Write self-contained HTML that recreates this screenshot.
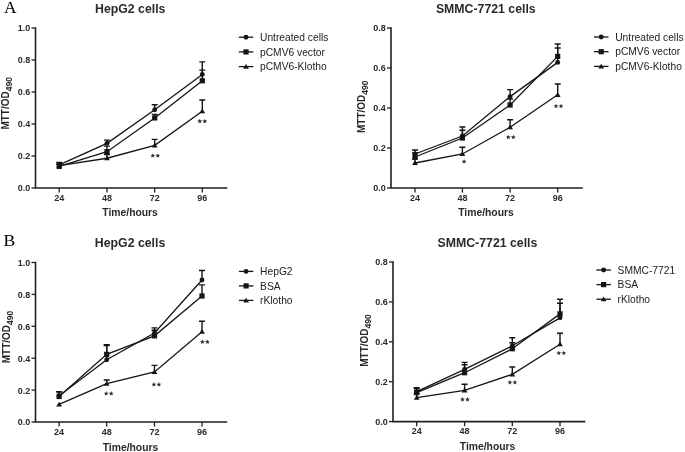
<!DOCTYPE html>
<html><head><meta charset="utf-8"><style>
html,body{margin:0;padding:0;background:#fff;width:685px;height:452px;overflow:hidden}
svg{display:block;filter:blur(0.3px)}
text{font-family:"Liberation Sans", sans-serif}
.pl{font-family:"Liberation Serif", serif}
</style></head><body>
<svg width="685" height="452" viewBox="0 0 685 452">
<rect width="685" height="452" fill="#fff"/>
<text class="pl" x="3.9" y="12.5" font-size="17.4" fill="#000">A</text>
<text class="pl" x="3.6" y="245.6" font-size="17.6" fill="#000">B</text>
<path d="M35.5 28.0 V188 H226.5" fill="none" stroke="#202020" stroke-width="1.6" stroke-linecap="square"/>
<line x1="31.5" y1="188.00" x2="35.5" y2="188.00" stroke="#202020" stroke-width="1.3"/>
<text transform="translate(30.30,191.40) scale(1,1.1)" text-anchor="end" font-size="9" font-weight="bold" fill="#2a2a2a">0.0</text>
<line x1="31.5" y1="156.00" x2="35.5" y2="156.00" stroke="#202020" stroke-width="1.3"/>
<text transform="translate(30.30,159.40) scale(1,1.1)" text-anchor="end" font-size="9" font-weight="bold" fill="#2a2a2a">0.2</text>
<line x1="31.5" y1="124.00" x2="35.5" y2="124.00" stroke="#202020" stroke-width="1.3"/>
<text transform="translate(30.30,127.40) scale(1,1.1)" text-anchor="end" font-size="9" font-weight="bold" fill="#2a2a2a">0.4</text>
<line x1="31.5" y1="92.00" x2="35.5" y2="92.00" stroke="#202020" stroke-width="1.3"/>
<text transform="translate(30.30,95.40) scale(1,1.1)" text-anchor="end" font-size="9" font-weight="bold" fill="#2a2a2a">0.6</text>
<line x1="31.5" y1="60.00" x2="35.5" y2="60.00" stroke="#202020" stroke-width="1.3"/>
<text transform="translate(30.30,63.40) scale(1,1.1)" text-anchor="end" font-size="9" font-weight="bold" fill="#2a2a2a">0.8</text>
<line x1="31.5" y1="28.00" x2="35.5" y2="28.00" stroke="#202020" stroke-width="1.3"/>
<text transform="translate(30.30,31.40) scale(1,1.1)" text-anchor="end" font-size="9" font-weight="bold" fill="#2a2a2a">1.0</text>
<line x1="59.2" y1="188" x2="59.2" y2="192.6" stroke="#202020" stroke-width="1.3"/>
<text transform="translate(59.20,200.70) scale(1,1.1)" text-anchor="middle" font-size="9" font-weight="bold" fill="#2a2a2a">24</text>
<line x1="107" y1="188" x2="107" y2="192.6" stroke="#202020" stroke-width="1.3"/>
<text transform="translate(107.00,200.70) scale(1,1.1)" text-anchor="middle" font-size="9" font-weight="bold" fill="#2a2a2a">48</text>
<line x1="154.7" y1="188" x2="154.7" y2="192.6" stroke="#202020" stroke-width="1.3"/>
<text transform="translate(154.70,200.70) scale(1,1.1)" text-anchor="middle" font-size="9" font-weight="bold" fill="#2a2a2a">72</text>
<line x1="202.3" y1="188" x2="202.3" y2="192.6" stroke="#202020" stroke-width="1.3"/>
<text transform="translate(202.30,200.70) scale(1,1.1)" text-anchor="middle" font-size="9" font-weight="bold" fill="#2a2a2a">96</text>
<text x="130.1" y="216.2" text-anchor="middle" font-size="10.35" font-weight="bold" fill="#2a2a2a">Time/hours</text>
<text transform="translate(9.3,129.6) rotate(-90)" font-size="10" font-weight="bold" fill="#2a2a2a">MTT/OD<tspan font-size="8.5" dy="3.1">490</tspan></text>
<text x="130.25" y="13" text-anchor="middle" font-size="12.3" font-weight="bold" fill="#2a2a2a">HepG2 cells</text>
<path d="M59.20 164.80 L107.00 143.36 L154.70 109.76 L202.30 74.40" fill="none" stroke="#151515" stroke-width="1.3"/>
<path d="M59.20 164.80 V162.40 M56.20 162.40 H62.20" fill="none" stroke="#151515" stroke-width="1.4"/>
<circle cx="59.20" cy="164.80" r="2.45" fill="#151515"/>
<path d="M107.00 143.36 V140.16 M104.00 140.16 H110.00" fill="none" stroke="#151515" stroke-width="1.4"/>
<circle cx="107.00" cy="143.36" r="2.45" fill="#151515"/>
<path d="M154.70 109.76 V104.80 M151.70 104.80 H157.70" fill="none" stroke="#151515" stroke-width="1.4"/>
<circle cx="154.70" cy="109.76" r="2.45" fill="#151515"/>
<path d="M202.30 74.40 V61.92 M199.30 61.92 H205.30" fill="none" stroke="#151515" stroke-width="1.4"/>
<circle cx="202.30" cy="74.40" r="2.45" fill="#151515"/>
<path d="M59.20 166.40 L107.00 151.68 L154.70 117.92 L202.30 80.80" fill="none" stroke="#151515" stroke-width="1.3"/>
<path d="M59.20 166.40 V164.00 M56.20 164.00 H62.20" fill="none" stroke="#151515" stroke-width="1.4"/>
<rect x="56.60" y="163.80" width="5.2" height="5.2" fill="#151515"/>
<path d="M107.00 151.68 V146.08 M104.00 146.08 H110.00" fill="none" stroke="#151515" stroke-width="1.4"/>
<rect x="104.40" y="149.08" width="5.2" height="5.2" fill="#151515"/>
<path d="M154.70 117.92 V114.40 M151.70 114.40 H157.70" fill="none" stroke="#151515" stroke-width="1.4"/>
<rect x="152.10" y="115.32" width="5.2" height="5.2" fill="#151515"/>
<path d="M202.30 80.80 V70.08 M199.30 70.08 H205.30" fill="none" stroke="#151515" stroke-width="1.4"/>
<rect x="199.70" y="78.20" width="5.2" height="5.2" fill="#151515"/>
<path d="M59.20 165.60 L107.00 158.24 L154.70 145.28 L202.30 111.20" fill="none" stroke="#151515" stroke-width="1.3"/>
<path d="M59.20 162.90 L62.10 167.70 L56.30 167.70Z" fill="#151515"/>
<path d="M107.00 158.24 V154.56 M104.00 154.56 H110.00" fill="none" stroke="#151515" stroke-width="1.4"/>
<path d="M107.00 155.54 L109.90 160.34 L104.10 160.34Z" fill="#151515"/>
<path d="M154.70 145.28 V139.36 M151.70 139.36 H157.70" fill="none" stroke="#151515" stroke-width="1.4"/>
<path d="M154.70 142.58 L157.60 147.38 L151.80 147.38Z" fill="#151515"/>
<path d="M202.30 111.20 V100.00 M199.30 100.00 H205.30" fill="none" stroke="#151515" stroke-width="1.4"/>
<path d="M202.30 108.50 L205.20 113.30 L199.40 113.30Z" fill="#151515"/>
<polygon points="152.80,153.20 153.48,154.77 155.18,154.93 153.89,156.06 154.27,157.72 152.80,156.85 151.33,157.72 151.71,156.06 150.42,154.93 152.12,154.77" fill="#333"/>
<polygon points="157.80,153.20 158.48,154.77 160.18,154.93 158.89,156.06 159.27,157.72 157.80,156.85 156.33,157.72 156.71,156.06 155.42,154.93 157.12,154.77" fill="#333"/>
<polygon points="199.75,118.80 200.43,120.37 202.13,120.53 200.84,121.66 201.22,123.32 199.75,122.45 198.28,123.32 198.66,121.66 197.37,120.53 199.07,120.37" fill="#333"/>
<polygon points="204.75,118.80 205.43,120.37 207.13,120.53 205.84,121.66 206.22,123.32 204.75,122.45 203.28,123.32 203.66,121.66 202.37,120.53 204.07,120.37" fill="#333"/>
<line x1="238.8" y1="37.20" x2="253.3" y2="37.20" stroke="#151515" stroke-width="1.3"/>
<circle cx="246.00" cy="37.20" r="2.45" fill="#151515"/>
<text x="260.00" y="40.80" font-size="10.25" fill="#222">Untreated cells</text>
<line x1="238.8" y1="51.90" x2="253.3" y2="51.90" stroke="#151515" stroke-width="1.3"/>
<rect x="243.40" y="49.30" width="5.2" height="5.2" fill="#151515"/>
<text x="260.00" y="55.50" font-size="10.25" fill="#222">pCMV6 vector</text>
<line x1="238.8" y1="66.60" x2="253.3" y2="66.60" stroke="#151515" stroke-width="1.3"/>
<path d="M246.00 63.90 L248.90 68.70 L243.10 68.70Z" fill="#151515"/>
<text x="260.00" y="70.20" font-size="10.25" fill="#222">pCMV6-Klotho</text>
<path d="M391 28.0 V188 H582" fill="none" stroke="#202020" stroke-width="1.6" stroke-linecap="square"/>
<line x1="387" y1="188.00" x2="391" y2="188.00" stroke="#202020" stroke-width="1.3"/>
<text transform="translate(385.80,191.40) scale(1,1.1)" text-anchor="end" font-size="9" font-weight="bold" fill="#2a2a2a">0.0</text>
<line x1="387" y1="148.00" x2="391" y2="148.00" stroke="#202020" stroke-width="1.3"/>
<text transform="translate(385.80,151.40) scale(1,1.1)" text-anchor="end" font-size="9" font-weight="bold" fill="#2a2a2a">0.2</text>
<line x1="387" y1="108.00" x2="391" y2="108.00" stroke="#202020" stroke-width="1.3"/>
<text transform="translate(385.80,111.40) scale(1,1.1)" text-anchor="end" font-size="9" font-weight="bold" fill="#2a2a2a">0.4</text>
<line x1="387" y1="68.00" x2="391" y2="68.00" stroke="#202020" stroke-width="1.3"/>
<text transform="translate(385.80,71.40) scale(1,1.1)" text-anchor="end" font-size="9" font-weight="bold" fill="#2a2a2a">0.6</text>
<line x1="387" y1="28.00" x2="391" y2="28.00" stroke="#202020" stroke-width="1.3"/>
<text transform="translate(385.80,31.40) scale(1,1.1)" text-anchor="end" font-size="9" font-weight="bold" fill="#2a2a2a">0.8</text>
<line x1="415" y1="188" x2="415" y2="192.6" stroke="#202020" stroke-width="1.3"/>
<text transform="translate(415.00,200.70) scale(1,1.1)" text-anchor="middle" font-size="9" font-weight="bold" fill="#2a2a2a">24</text>
<line x1="462.4" y1="188" x2="462.4" y2="192.6" stroke="#202020" stroke-width="1.3"/>
<text transform="translate(462.40,200.70) scale(1,1.1)" text-anchor="middle" font-size="9" font-weight="bold" fill="#2a2a2a">48</text>
<line x1="510.1" y1="188" x2="510.1" y2="192.6" stroke="#202020" stroke-width="1.3"/>
<text transform="translate(510.10,200.70) scale(1,1.1)" text-anchor="middle" font-size="9" font-weight="bold" fill="#2a2a2a">72</text>
<line x1="557.7" y1="188" x2="557.7" y2="192.6" stroke="#202020" stroke-width="1.3"/>
<text transform="translate(557.70,200.70) scale(1,1.1)" text-anchor="middle" font-size="9" font-weight="bold" fill="#2a2a2a">96</text>
<text x="486" y="216.2" text-anchor="middle" font-size="10.35" font-weight="bold" fill="#2a2a2a">Time/hours</text>
<text transform="translate(365,133) rotate(-90)" font-size="10" font-weight="bold" fill="#2a2a2a">MTT/OD<tspan font-size="8.5" dy="3.1">490</tspan></text>
<text x="485.8" y="13.4" text-anchor="middle" font-size="12.3" font-weight="bold" fill="#2a2a2a">SMMC-7721 cells</text>
<path d="M415.00 154.00 L462.40 136.00 L510.10 96.60 L557.70 62.40" fill="none" stroke="#151515" stroke-width="1.3"/>
<path d="M415.00 154.00 V150.00 M412.00 150.00 H418.00" fill="none" stroke="#151515" stroke-width="1.4"/>
<circle cx="415.00" cy="154.00" r="2.45" fill="#151515"/>
<path d="M462.40 136.00 V127.00 M459.40 127.00 H465.40" fill="none" stroke="#151515" stroke-width="1.4"/>
<circle cx="462.40" cy="136.00" r="2.45" fill="#151515"/>
<path d="M510.10 96.60 V89.60 M507.10 89.60 H513.10" fill="none" stroke="#151515" stroke-width="1.4"/>
<circle cx="510.10" cy="96.60" r="2.45" fill="#151515"/>
<path d="M557.70 62.40 V44.00 M554.70 44.00 H560.70" fill="none" stroke="#151515" stroke-width="1.4"/>
<circle cx="557.70" cy="62.40" r="2.45" fill="#151515"/>
<path d="M415.00 157.00 L462.40 138.00 L510.10 105.00 L557.70 56.40" fill="none" stroke="#151515" stroke-width="1.3"/>
<path d="M415.00 157.00 V153.00 M412.00 153.00 H418.00" fill="none" stroke="#151515" stroke-width="1.4"/>
<rect x="412.40" y="154.40" width="5.2" height="5.2" fill="#151515"/>
<path d="M462.40 138.00 V130.20 M459.40 130.20 H465.40" fill="none" stroke="#151515" stroke-width="1.4"/>
<rect x="459.80" y="135.40" width="5.2" height="5.2" fill="#151515"/>
<path d="M510.10 105.00 V99.00 M507.10 99.00 H513.10" fill="none" stroke="#151515" stroke-width="1.4"/>
<rect x="507.50" y="102.40" width="5.2" height="5.2" fill="#151515"/>
<path d="M557.70 56.40 V48.00 M554.70 48.00 H560.70" fill="none" stroke="#151515" stroke-width="1.4"/>
<rect x="555.10" y="53.80" width="5.2" height="5.2" fill="#151515"/>
<path d="M415.00 163.00 L462.40 154.00 L510.10 127.20 L557.70 94.80" fill="none" stroke="#151515" stroke-width="1.3"/>
<path d="M415.00 163.00 V159.00 M412.00 159.00 H418.00" fill="none" stroke="#151515" stroke-width="1.4"/>
<path d="M415.00 160.30 L417.90 165.10 L412.10 165.10Z" fill="#151515"/>
<path d="M462.40 154.00 V147.20 M459.40 147.20 H465.40" fill="none" stroke="#151515" stroke-width="1.4"/>
<path d="M462.40 151.30 L465.30 156.10 L459.50 156.10Z" fill="#151515"/>
<path d="M510.10 127.20 V119.80 M507.10 119.80 H513.10" fill="none" stroke="#151515" stroke-width="1.4"/>
<path d="M510.10 124.50 L513.00 129.30 L507.20 129.30Z" fill="#151515"/>
<path d="M557.70 94.80 V84.00 M554.70 84.00 H560.70" fill="none" stroke="#151515" stroke-width="1.4"/>
<path d="M557.70 92.10 L560.60 96.90 L554.80 96.90Z" fill="#151515"/>
<polygon points="464.10,159.10 464.78,160.67 466.48,160.83 465.19,161.96 465.57,163.62 464.10,162.75 462.63,163.62 463.01,161.96 461.72,160.83 463.42,160.67" fill="#333"/>
<polygon points="508.30,134.70 508.98,136.27 510.68,136.43 509.39,137.56 509.77,139.22 508.30,138.35 506.83,139.22 507.21,137.56 505.92,136.43 507.62,136.27" fill="#333"/>
<polygon points="513.30,134.70 513.98,136.27 515.68,136.43 514.39,137.56 514.77,139.22 513.30,138.35 511.83,139.22 512.21,137.56 510.92,136.43 512.62,136.27" fill="#333"/>
<polygon points="556.00,103.70 556.68,105.27 558.38,105.43 557.09,106.56 557.47,108.22 556.00,107.35 554.53,108.22 554.91,106.56 553.62,105.43 555.32,105.27" fill="#333"/>
<polygon points="561.00,103.70 561.68,105.27 563.38,105.43 562.09,106.56 562.47,108.22 561.00,107.35 559.53,108.22 559.91,106.56 558.62,105.43 560.32,105.27" fill="#333"/>
<line x1="594" y1="37.00" x2="608.5" y2="37.00" stroke="#151515" stroke-width="1.3"/>
<circle cx="601.20" cy="37.00" r="2.45" fill="#151515"/>
<text x="615.20" y="40.60" font-size="10.25" fill="#222">Untreated cells</text>
<line x1="594" y1="51.70" x2="608.5" y2="51.70" stroke="#151515" stroke-width="1.3"/>
<rect x="598.60" y="49.10" width="5.2" height="5.2" fill="#151515"/>
<text x="615.20" y="55.30" font-size="10.25" fill="#222">pCMV6 vector</text>
<line x1="594" y1="66.40" x2="608.5" y2="66.40" stroke="#151515" stroke-width="1.3"/>
<path d="M601.20 63.70 L604.10 68.50 L598.30 68.50Z" fill="#151515"/>
<text x="615.20" y="70.00" font-size="10.25" fill="#222">pCMV6-Klotho</text>
<path d="M35.5 262.5 V422 H226.4" fill="none" stroke="#202020" stroke-width="1.6" stroke-linecap="square"/>
<line x1="31.5" y1="422.00" x2="35.5" y2="422.00" stroke="#202020" stroke-width="1.3"/>
<text transform="translate(30.30,425.40) scale(1,1.1)" text-anchor="end" font-size="9" font-weight="bold" fill="#2a2a2a">0.0</text>
<line x1="31.5" y1="390.10" x2="35.5" y2="390.10" stroke="#202020" stroke-width="1.3"/>
<text transform="translate(30.30,393.50) scale(1,1.1)" text-anchor="end" font-size="9" font-weight="bold" fill="#2a2a2a">0.2</text>
<line x1="31.5" y1="358.20" x2="35.5" y2="358.20" stroke="#202020" stroke-width="1.3"/>
<text transform="translate(30.30,361.60) scale(1,1.1)" text-anchor="end" font-size="9" font-weight="bold" fill="#2a2a2a">0.4</text>
<line x1="31.5" y1="326.30" x2="35.5" y2="326.30" stroke="#202020" stroke-width="1.3"/>
<text transform="translate(30.30,329.70) scale(1,1.1)" text-anchor="end" font-size="9" font-weight="bold" fill="#2a2a2a">0.6</text>
<line x1="31.5" y1="294.40" x2="35.5" y2="294.40" stroke="#202020" stroke-width="1.3"/>
<text transform="translate(30.30,297.80) scale(1,1.1)" text-anchor="end" font-size="9" font-weight="bold" fill="#2a2a2a">0.8</text>
<line x1="31.5" y1="262.50" x2="35.5" y2="262.50" stroke="#202020" stroke-width="1.3"/>
<text transform="translate(30.30,265.90) scale(1,1.1)" text-anchor="end" font-size="9" font-weight="bold" fill="#2a2a2a">1.0</text>
<line x1="59.1" y1="422" x2="59.1" y2="426.6" stroke="#202020" stroke-width="1.3"/>
<text transform="translate(59.10,434.70) scale(1,1.1)" text-anchor="middle" font-size="9" font-weight="bold" fill="#2a2a2a">24</text>
<line x1="106.7" y1="422" x2="106.7" y2="426.6" stroke="#202020" stroke-width="1.3"/>
<text transform="translate(106.70,434.70) scale(1,1.1)" text-anchor="middle" font-size="9" font-weight="bold" fill="#2a2a2a">48</text>
<line x1="154.5" y1="422" x2="154.5" y2="426.6" stroke="#202020" stroke-width="1.3"/>
<text transform="translate(154.50,434.70) scale(1,1.1)" text-anchor="middle" font-size="9" font-weight="bold" fill="#2a2a2a">72</text>
<line x1="202" y1="422" x2="202" y2="426.6" stroke="#202020" stroke-width="1.3"/>
<text transform="translate(202.00,434.70) scale(1,1.1)" text-anchor="middle" font-size="9" font-weight="bold" fill="#2a2a2a">96</text>
<text x="130.5" y="450.8" text-anchor="middle" font-size="10.35" font-weight="bold" fill="#2a2a2a">Time/hours</text>
<text transform="translate(9.8,363.3) rotate(-90)" font-size="10" font-weight="bold" fill="#2a2a2a">MTT/OD<tspan font-size="8.5" dy="3.1">490</tspan></text>
<text x="130.05" y="246.9" text-anchor="middle" font-size="12.3" font-weight="bold" fill="#2a2a2a">HepG2 cells</text>
<path d="M59.10 395.68 L106.70 359.80 L154.50 333.00 L202.00 280.04" fill="none" stroke="#151515" stroke-width="1.3"/>
<path d="M59.10 395.68 V391.69 M56.10 391.69 H62.10" fill="none" stroke="#151515" stroke-width="1.4"/>
<circle cx="59.10" cy="395.68" r="2.45" fill="#151515"/>
<path d="M106.70 359.80 V345.44 M103.70 345.44 H109.70" fill="none" stroke="#151515" stroke-width="1.4"/>
<circle cx="106.70" cy="359.80" r="2.45" fill="#151515"/>
<path d="M154.50 333.00 V327.89 M151.50 327.89 H157.50" fill="none" stroke="#151515" stroke-width="1.4"/>
<circle cx="154.50" cy="333.00" r="2.45" fill="#151515"/>
<path d="M202.00 280.04 V270.48 M199.00 270.48 H205.00" fill="none" stroke="#151515" stroke-width="1.4"/>
<circle cx="202.00" cy="280.04" r="2.45" fill="#151515"/>
<path d="M59.10 396.48 L106.70 354.37 L154.50 335.87 L202.00 296.00" fill="none" stroke="#151515" stroke-width="1.3"/>
<path d="M59.10 396.48 V391.69 M56.10 391.69 H62.10" fill="none" stroke="#151515" stroke-width="1.4"/>
<rect x="56.50" y="393.88" width="5.2" height="5.2" fill="#151515"/>
<path d="M106.70 354.37 V344.80 M103.70 344.80 H109.70" fill="none" stroke="#151515" stroke-width="1.4"/>
<rect x="104.10" y="351.77" width="5.2" height="5.2" fill="#151515"/>
<path d="M154.50 335.87 V330.29 M151.50 330.29 H157.50" fill="none" stroke="#151515" stroke-width="1.4"/>
<rect x="151.90" y="333.27" width="5.2" height="5.2" fill="#151515"/>
<path d="M202.00 296.00 V284.83 M199.00 284.83 H205.00" fill="none" stroke="#151515" stroke-width="1.4"/>
<rect x="199.40" y="293.39" width="5.2" height="5.2" fill="#151515"/>
<path d="M59.10 404.45 L106.70 383.72 L154.50 371.92 L202.00 331.72" fill="none" stroke="#151515" stroke-width="1.3"/>
<path d="M59.10 401.75 L62.00 406.56 L56.20 406.56Z" fill="#151515"/>
<path d="M106.70 383.72 V380.05 M103.70 380.05 H109.70" fill="none" stroke="#151515" stroke-width="1.4"/>
<path d="M106.70 381.02 L109.60 385.82 L103.80 385.82Z" fill="#151515"/>
<path d="M154.50 371.92 V365.38 M151.50 365.38 H157.50" fill="none" stroke="#151515" stroke-width="1.4"/>
<path d="M154.50 369.22 L157.40 374.02 L151.60 374.02Z" fill="#151515"/>
<path d="M202.00 331.72 V321.20 M199.00 321.20 H205.00" fill="none" stroke="#151515" stroke-width="1.4"/>
<path d="M202.00 329.02 L204.90 333.82 L199.10 333.82Z" fill="#151515"/>
<polygon points="106.20,391.10 106.88,392.67 108.58,392.83 107.29,393.96 107.67,395.62 106.20,394.75 104.73,395.62 105.11,393.96 103.82,392.83 105.52,392.67" fill="#333"/>
<polygon points="111.20,391.10 111.88,392.67 113.58,392.83 112.29,393.96 112.67,395.62 111.20,394.75 109.73,395.62 110.11,393.96 108.82,392.83 110.52,392.67" fill="#333"/>
<polygon points="153.90,382.10 154.58,383.67 156.28,383.83 154.99,384.96 155.37,386.62 153.90,385.75 152.43,386.62 152.81,384.96 151.52,383.83 153.22,383.67" fill="#333"/>
<polygon points="158.90,382.10 159.58,383.67 161.28,383.83 159.99,384.96 160.37,386.62 158.90,385.75 157.43,386.62 157.81,384.96 156.52,383.83 158.22,383.67" fill="#333"/>
<polygon points="202.40,339.40 203.08,340.97 204.78,341.13 203.49,342.26 203.87,343.92 202.40,343.05 200.93,343.92 201.31,342.26 200.02,341.13 201.72,340.97" fill="#333"/>
<polygon points="207.40,339.40 208.08,340.97 209.78,341.13 208.49,342.26 208.87,343.92 207.40,343.05 205.93,343.92 206.31,342.26 205.02,341.13 206.72,340.97" fill="#333"/>
<line x1="238.9" y1="271.40" x2="253.4" y2="271.40" stroke="#151515" stroke-width="1.3"/>
<circle cx="246.10" cy="271.40" r="2.45" fill="#151515"/>
<text x="260.10" y="275.00" font-size="10.25" fill="#222">HepG2</text>
<line x1="238.9" y1="285.90" x2="253.4" y2="285.90" stroke="#151515" stroke-width="1.3"/>
<rect x="243.50" y="283.30" width="5.2" height="5.2" fill="#151515"/>
<text x="260.10" y="289.50" font-size="10.25" fill="#222">BSA</text>
<line x1="238.9" y1="300.40" x2="253.4" y2="300.40" stroke="#151515" stroke-width="1.3"/>
<path d="M246.10 297.70 L249.00 302.50 L243.20 302.50Z" fill="#151515"/>
<text x="260.10" y="304.00" font-size="10.25" fill="#222">rKlotho</text>
<path d="M393 262.0 V421.6 H584.5" fill="none" stroke="#202020" stroke-width="1.6" stroke-linecap="square"/>
<line x1="389" y1="421.60" x2="393" y2="421.60" stroke="#202020" stroke-width="1.3"/>
<text transform="translate(387.80,425.00) scale(1,1.1)" text-anchor="end" font-size="9" font-weight="bold" fill="#2a2a2a">0.0</text>
<line x1="389" y1="381.70" x2="393" y2="381.70" stroke="#202020" stroke-width="1.3"/>
<text transform="translate(387.80,385.10) scale(1,1.1)" text-anchor="end" font-size="9" font-weight="bold" fill="#2a2a2a">0.2</text>
<line x1="389" y1="341.80" x2="393" y2="341.80" stroke="#202020" stroke-width="1.3"/>
<text transform="translate(387.80,345.20) scale(1,1.1)" text-anchor="end" font-size="9" font-weight="bold" fill="#2a2a2a">0.4</text>
<line x1="389" y1="301.90" x2="393" y2="301.90" stroke="#202020" stroke-width="1.3"/>
<text transform="translate(387.80,305.30) scale(1,1.1)" text-anchor="end" font-size="9" font-weight="bold" fill="#2a2a2a">0.6</text>
<line x1="389" y1="262.00" x2="393" y2="262.00" stroke="#202020" stroke-width="1.3"/>
<text transform="translate(387.80,265.40) scale(1,1.1)" text-anchor="end" font-size="9" font-weight="bold" fill="#2a2a2a">0.8</text>
<line x1="416.7" y1="421.6" x2="416.7" y2="426.20000000000005" stroke="#202020" stroke-width="1.3"/>
<text transform="translate(416.70,434.30) scale(1,1.1)" text-anchor="middle" font-size="9" font-weight="bold" fill="#2a2a2a">24</text>
<line x1="464.6" y1="421.6" x2="464.6" y2="426.20000000000005" stroke="#202020" stroke-width="1.3"/>
<text transform="translate(464.60,434.30) scale(1,1.1)" text-anchor="middle" font-size="9" font-weight="bold" fill="#2a2a2a">48</text>
<line x1="512.3" y1="421.6" x2="512.3" y2="426.20000000000005" stroke="#202020" stroke-width="1.3"/>
<text transform="translate(512.30,434.30) scale(1,1.1)" text-anchor="middle" font-size="9" font-weight="bold" fill="#2a2a2a">72</text>
<line x1="560" y1="421.6" x2="560" y2="426.20000000000005" stroke="#202020" stroke-width="1.3"/>
<text transform="translate(560.00,434.30) scale(1,1.1)" text-anchor="middle" font-size="9" font-weight="bold" fill="#2a2a2a">96</text>
<text x="487.55" y="449.6" text-anchor="middle" font-size="10.35" font-weight="bold" fill="#2a2a2a">Time/hours</text>
<text transform="translate(368,366.8) rotate(-90)" font-size="10" font-weight="bold" fill="#2a2a2a">MTT/OD<tspan font-size="8.5" dy="3.1">490</tspan></text>
<text x="487.45" y="246.7" text-anchor="middle" font-size="12.3" font-weight="bold" fill="#2a2a2a">SMMC-7721 cells</text>
<path d="M416.70 391.68 L464.60 369.33 L512.30 345.79 L560.00 317.86" fill="none" stroke="#151515" stroke-width="1.3"/>
<path d="M416.70 391.68 V387.69 M413.70 387.69 H419.70" fill="none" stroke="#151515" stroke-width="1.4"/>
<circle cx="416.70" cy="391.68" r="2.45" fill="#151515"/>
<path d="M464.60 369.33 V362.35 M461.60 362.35 H467.60" fill="none" stroke="#151515" stroke-width="1.4"/>
<circle cx="464.60" cy="369.33" r="2.45" fill="#151515"/>
<path d="M512.30 345.79 V337.81 M509.30 337.81 H515.30" fill="none" stroke="#151515" stroke-width="1.4"/>
<circle cx="512.30" cy="345.79" r="2.45" fill="#151515"/>
<path d="M560.00 317.86 V299.31 M557.00 299.31 H563.00" fill="none" stroke="#151515" stroke-width="1.4"/>
<circle cx="560.00" cy="317.86" r="2.45" fill="#151515"/>
<path d="M416.70 392.67 L464.60 372.72 L512.30 348.78 L560.00 313.87" fill="none" stroke="#151515" stroke-width="1.3"/>
<path d="M416.70 392.67 V388.68 M413.70 388.68 H419.70" fill="none" stroke="#151515" stroke-width="1.4"/>
<rect x="414.10" y="390.07" width="5.2" height="5.2" fill="#151515"/>
<path d="M464.60 372.72 V364.74 M461.60 364.74 H467.60" fill="none" stroke="#151515" stroke-width="1.4"/>
<rect x="462.00" y="370.12" width="5.2" height="5.2" fill="#151515"/>
<path d="M512.30 348.78 V342.80 M509.30 342.80 H515.30" fill="none" stroke="#151515" stroke-width="1.4"/>
<rect x="509.70" y="346.18" width="5.2" height="5.2" fill="#151515"/>
<path d="M560.00 313.87 V303.30 M557.00 303.30 H563.00" fill="none" stroke="#151515" stroke-width="1.4"/>
<rect x="557.40" y="311.27" width="5.2" height="5.2" fill="#151515"/>
<path d="M416.70 397.66 L464.60 390.28 L512.30 374.32 L560.00 344.19" fill="none" stroke="#151515" stroke-width="1.3"/>
<path d="M416.70 397.66 V393.67 M413.70 393.67 H419.70" fill="none" stroke="#151515" stroke-width="1.4"/>
<path d="M416.70 394.96 L419.60 399.76 L413.80 399.76Z" fill="#151515"/>
<path d="M464.60 390.28 V384.29 M461.60 384.29 H467.60" fill="none" stroke="#151515" stroke-width="1.4"/>
<path d="M464.60 387.58 L467.50 392.38 L461.70 392.38Z" fill="#151515"/>
<path d="M512.30 374.32 V366.94 M509.30 366.94 H515.30" fill="none" stroke="#151515" stroke-width="1.4"/>
<path d="M512.30 371.62 L515.20 376.42 L509.40 376.42Z" fill="#151515"/>
<path d="M560.00 344.19 V333.22 M557.00 333.22 H563.00" fill="none" stroke="#151515" stroke-width="1.4"/>
<path d="M560.00 341.49 L562.90 346.29 L557.10 346.29Z" fill="#151515"/>
<polygon points="462.50,397.00 463.18,398.57 464.88,398.73 463.59,399.86 463.97,401.52 462.50,400.65 461.03,401.52 461.41,399.86 460.12,398.73 461.82,398.57" fill="#333"/>
<polygon points="467.50,397.00 468.18,398.57 469.88,398.73 468.59,399.86 468.97,401.52 467.50,400.65 466.03,401.52 466.41,399.86 465.12,398.73 466.82,398.57" fill="#333"/>
<polygon points="509.90,379.90 510.58,381.47 512.28,381.63 510.99,382.76 511.37,384.42 509.90,383.55 508.43,384.42 508.81,382.76 507.52,381.63 509.22,381.47" fill="#333"/>
<polygon points="514.90,379.90 515.58,381.47 517.28,381.63 515.99,382.76 516.37,384.42 514.90,383.55 513.43,384.42 513.81,382.76 512.52,381.63 514.22,381.47" fill="#333"/>
<polygon points="558.80,350.60 559.48,352.17 561.18,352.33 559.89,353.46 560.27,355.12 558.80,354.25 557.33,355.12 557.71,353.46 556.42,352.33 558.12,352.17" fill="#333"/>
<polygon points="563.80,350.60 564.48,352.17 566.18,352.33 564.89,353.46 565.27,355.12 563.80,354.25 562.33,355.12 562.71,353.46 561.42,352.33 563.12,352.17" fill="#333"/>
<line x1="596.4" y1="270.00" x2="610.9" y2="270.00" stroke="#151515" stroke-width="1.3"/>
<circle cx="603.60" cy="270.00" r="2.45" fill="#151515"/>
<text x="617.60" y="273.60" font-size="10.25" fill="#222">SMMC-7721</text>
<line x1="596.4" y1="284.60" x2="610.9" y2="284.60" stroke="#151515" stroke-width="1.3"/>
<rect x="601.00" y="282.00" width="5.2" height="5.2" fill="#151515"/>
<text x="617.60" y="288.20" font-size="10.25" fill="#222">BSA</text>
<line x1="596.4" y1="299.20" x2="610.9" y2="299.20" stroke="#151515" stroke-width="1.3"/>
<path d="M603.60 296.50 L606.50 301.30 L600.70 301.30Z" fill="#151515"/>
<text x="617.60" y="302.80" font-size="10.25" fill="#222">rKlotho</text>
</svg>
</body></html>
